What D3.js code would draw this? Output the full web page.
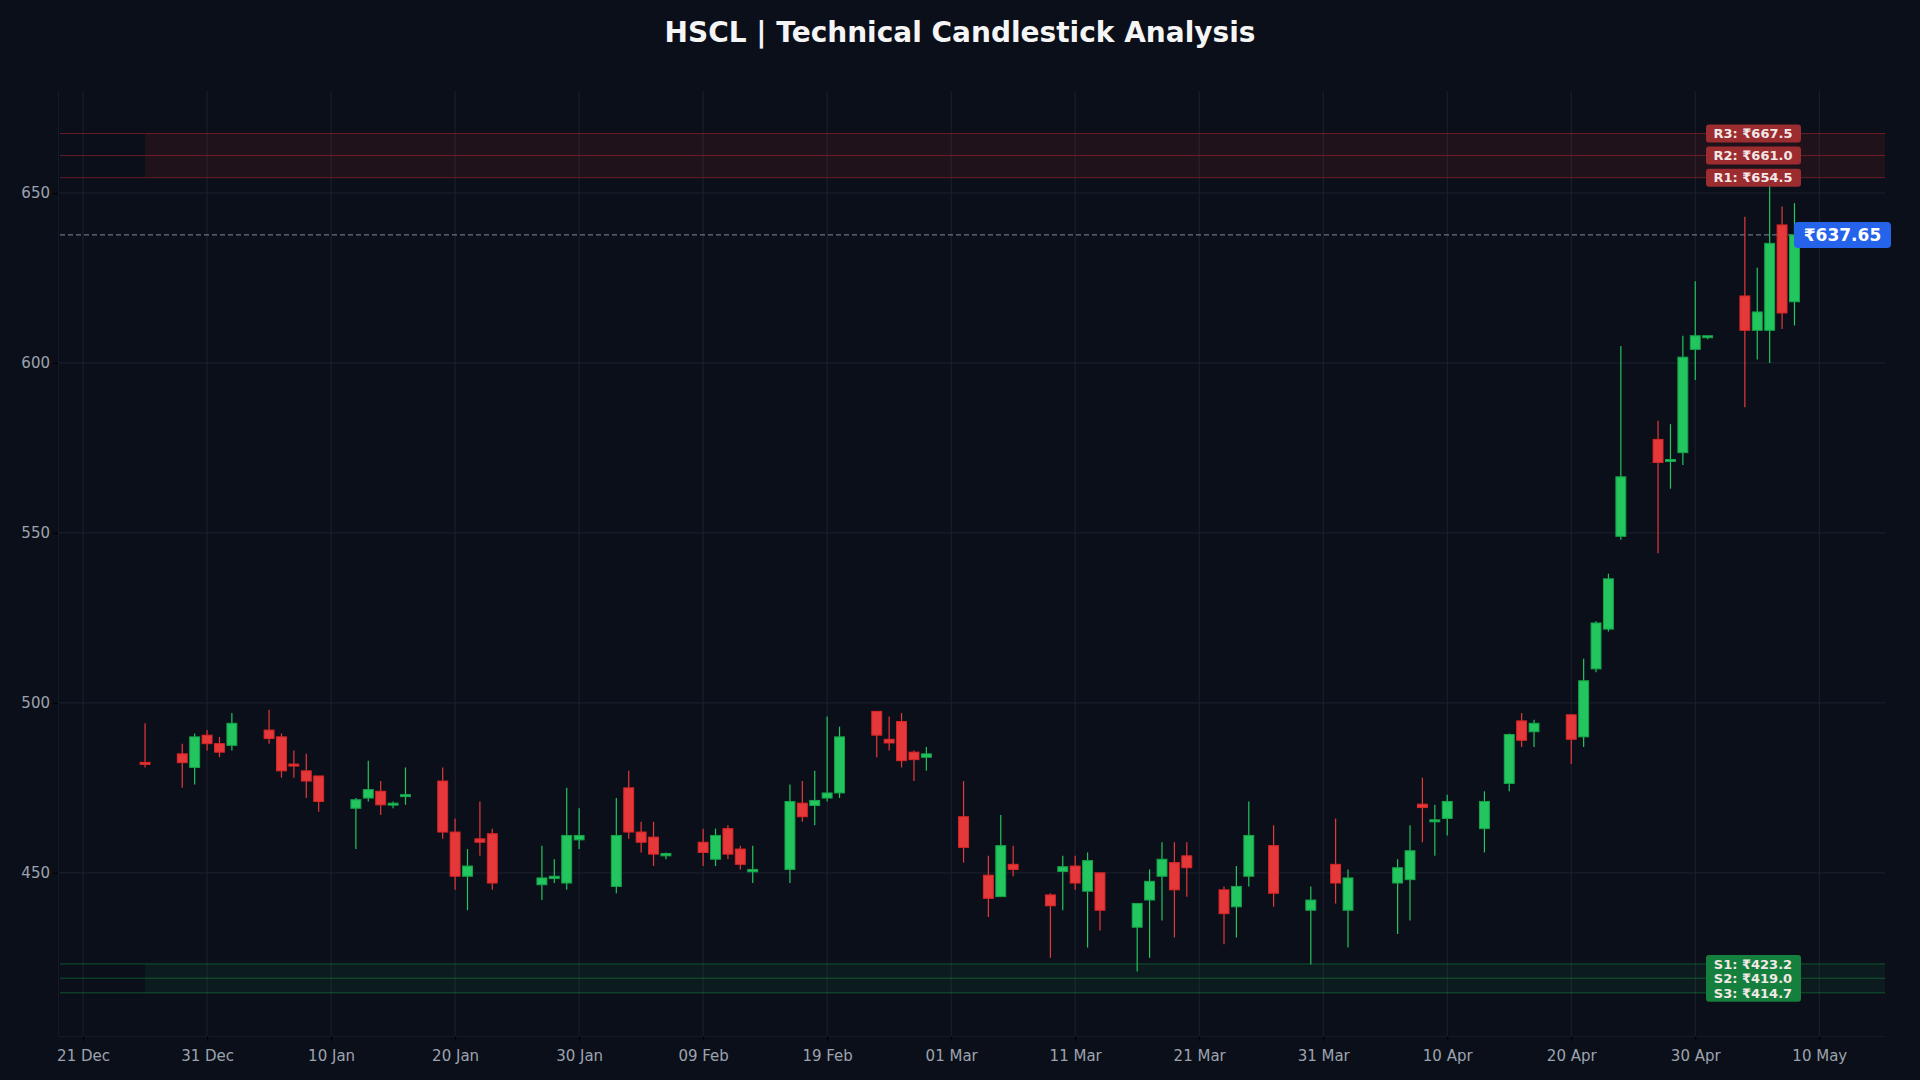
<!DOCTYPE html>
<html>
<head>
<meta charset="utf-8">
<script src="https://cdn.jsdelivr.net/npm/d3@7"></script>
<style>
  body { margin: 0; background: #0b0f19; }
  text { font-family: "DejaVu Sans", sans-serif; }
</style>
</head>
<body>
<div id="chart"></div>
<script>
// trading days and OHLC values
const dates = ["2025-12-26","2025-12-29","2025-12-30","2025-12-31","2026-01-01","2026-01-02",
  "2026-01-05","2026-01-06","2026-01-07","2026-01-08","2026-01-09",
  "2026-01-12","2026-01-13","2026-01-14","2026-01-15","2026-01-16",
  "2026-01-19","2026-01-20","2026-01-21","2026-01-22","2026-01-23",
  "2026-01-27","2026-01-28","2026-01-29","2026-01-30",
  "2026-02-02","2026-02-03","2026-02-04","2026-02-05","2026-02-06",
  "2026-02-09","2026-02-10","2026-02-11","2026-02-12","2026-02-13",
  "2026-02-16","2026-02-17","2026-02-18","2026-02-19","2026-02-20",
  "2026-02-23","2026-02-24","2026-02-25","2026-02-26","2026-02-27",
  "2026-03-02","2026-03-04","2026-03-05","2026-03-06",
  "2026-03-09","2026-03-10","2026-03-11","2026-03-12","2026-03-13",
  "2026-03-16","2026-03-17","2026-03-18","2026-03-19","2026-03-20",
  "2026-03-23","2026-03-24","2026-03-25","2026-03-27",
  "2026-03-30","2026-04-01","2026-04-02",
  "2026-04-06","2026-04-07","2026-04-08","2026-04-09","2026-04-10",
  "2026-04-13","2026-04-15","2026-04-16","2026-04-17",
  "2026-04-20","2026-04-21","2026-04-22","2026-04-23","2026-04-24",
  "2026-04-27","2026-04-28","2026-04-29","2026-04-30","2026-05-01",
  "2026-05-04","2026-05-05","2026-05-06","2026-05-07","2026-05-08"];
const opens  = [482.5,485,481,490.5,488,487.5, 492,490,482,480,478.5, 469,472,474,470,472.5,
  477,462,449,460,461.5, 446.5,448.3,447,459.7, 446,475,462,460.5,455, 459,454,463,457,450.3,
  451,470.5,469.8,472,473.5, 497.5,489.3,494.5,485.5,484, 466.5,449.3,443,452.5,
  443.5,450.4,452,444.6,450, 434,442,449,453,455, 445,440,449,458, 439,452.5,439,
  447,448,470.2,465,466, 463,476.3,494.7,491.5, 496.5,490,510,521.7,549,
  577.5,571.2,573.6,604,607.6, 619.7,609.6,609.6,640.6,618];
const closes = [482,482.4,490,488,485.5,494, 489.5,480,481.5,477,471, 471.5,474.5,470,470.5,473,
  462,449,452,459,447, 448.5,449,461,461, 461,462,459,455.5,455.7, 456,461,455.5,452.5,451,
  471,466.5,471.3,473.5,490, 490.5,488.2,483,483.3,485, 457.5,442.5,458,451,
  440.3,451.8,447,453.6,439, 441,447.5,454,445,451.5, 438,446,461,444, 442,447,448.5,
  451.5,456.5,469.2,465.6,471, 471,490.7,489,494, 489.3,506.5,523.5,536.5,566.5,
  570.7,571.6,601.7,608,608, 609.6,615,635.2,614.7,637.65];
const highs  = [494,488,491,492,490,497, 498,491,486,485,478.5, 472,483,477,471,481,
  481,466,457,471,463, 458,454,475,469, 472,480,465,465,456, 463,463,464,458,458,
  476,477,480,496,493, 497.5,496,497,486,487, 477,455,467,458,
  444,455,455,456,450, 441,451,459,459,459, 446,452,471,464, 446,466,451,
  454,464,478,470,473, 474,491,497,495, 496.5,513,524,538,605,
  583,582,608,624,608, 643,628,654,646,647];
const lows   = [481,475,476,486,484,486, 488,478,478,472,468, 457,471,467,469,470,
  460,445,439,455,445, 442,447,445,457, 444,460,456,452,454, 452,452,454,451,447,
  447,465,464,471,472, 484,486,481,477,480, 453,437,443,449,
  425,439,445,428,433, 421,425,436,431,443, 429,431,446,440, 423,441,428,
  432,436,459,455,461, 456,474,487,487, 482,487,509,521,548,
  544,563,570,595,607, 587,601,600,610,611];

const resistance = [654.5, 661.0, 667.5];
const support = [423.2, 419.0, 414.7];
const lastPrice = 637.65;
const yTicks = [450, 500, 550, 600, 650];
const xTicks = ["2025-12-21","2025-12-31","2026-01-10","2026-01-20","2026-01-30","2026-02-09",
  "2026-02-19","2026-03-01","2026-03-11","2026-03-21","2026-03-31","2026-04-10","2026-04-20",
  "2026-04-30","2026-05-10"];

const width = 1920, height = 1080;
const margin = {top: 91, right: 35, bottom: 44, left: 58};
const bg = "#0b0f19", up = "#22c55e", down = "#e5383b";

const parse = d3.utcParse("%Y-%m-%d");
const data = dates.map((d, i) => ({date: parse(d), o: opens[i], c: closes[i], h: highs[i], l: lows[i]}));
const day = 864e5;

const svg = d3.select("#chart").append("svg")
  .attr("width", width).attr("height", height)
  .style("background", bg);

const x = d3.scaleUtc()
  .domain([new Date(parse("2025-12-21").getTime() - 2.02 * day), new Date(parse("2026-05-10").getTime() + 5.3 * day)])
  .range([margin.left, width - margin.right]);
const y = d3.scaleLinear()
  .domain([402, 680])
  .range([height - margin.bottom, margin.top]);

const x0 = margin.left, x1 = width - margin.right;

// grid
svg.append("g").selectAll("line").data(yTicks).join("line")
  .attr("x1", x0).attr("x2", x1).attr("y1", d => y(d)).attr("y2", d => y(d))
  .attr("stroke", "#1c2230").attr("stroke-width", 1);
svg.append("g").selectAll("line").data(xTicks).join("line")
  .attr("x1", d => x(parse(d))).attr("x2", d => x(parse(d)))
  .attr("y1", margin.top).attr("y2", height - margin.bottom)
  .attr("stroke", "#1c2230").attr("stroke-width", 1);

// zones
const zoneStart = x(data[0].date);
svg.append("rect").attr("x", zoneStart).attr("width", x1 - zoneStart)
  .attr("y", y(d3.max(resistance))).attr("height", y(d3.min(resistance)) - y(d3.max(resistance)))
  .attr("fill", "#e5383b").attr("opacity", 0.09);
svg.append("rect").attr("x", zoneStart).attr("width", x1 - zoneStart)
  .attr("y", y(d3.max(support))).attr("height", y(d3.min(support)) - y(d3.max(support)))
  .attr("fill", "#22c55e").attr("opacity", 0.07);

svg.append("g").selectAll("line").data(resistance).join("line")
  .attr("x1", x0 + 2).attr("x2", x1).attr("y1", d => y(d)).attr("y2", d => y(d))
  .attr("stroke", "#a3262c").attr("stroke-width", 1).attr("opacity", 0.6);
svg.append("g").selectAll("line").data(support).join("line")
  .attr("x1", x0 + 2).attr("x2", x1).attr("y1", d => y(d)).attr("y2", d => y(d))
  .attr("stroke", "#15803d").attr("stroke-width", 1).attr("opacity", 0.6);

// current price line
svg.append("line").attr("x1", x0 + 2).attr("x2", x1)
  .attr("y1", y(lastPrice)).attr("y2", y(lastPrice))
  .attr("stroke", "#6b7280").attr("stroke-width", 1.2).attr("stroke-dasharray", "5,3");

// candles
const bw = 0.8 * (x(new Date(day)) - x(new Date(0)));
const candles = svg.append("g").selectAll("g").data(data).join("g");
candles.append("line")
  .attr("x1", d => x(d.date)).attr("x2", d => x(d.date))
  .attr("y1", d => y(d.h)).attr("y2", d => y(d.l))
  .attr("stroke", d => d.c >= d.o ? up : down).attr("stroke-width", 1.2);
candles.append("rect")
  .attr("x", d => x(d.date) - bw / 2).attr("width", bw)
  .attr("y", d => y(Math.max(d.o, d.c)))
  .attr("height", d => Math.max(2, Math.abs(y(d.o) - y(d.c))))
  .attr("fill", d => d.c >= d.o ? up : down)
  .attr("stroke", d => d.c >= d.o ? "#16a34a" : "#dc2626").attr("stroke-width", 1);

// axes
const xAxis = svg.append("g")
  .attr("transform", `translate(0,${height - margin.bottom})`)
  .call(d3.axisBottom(x).tickValues(xTicks.map(parse)).tickFormat(d3.utcFormat("%d %b")).tickSize(5).tickSizeOuter(0));
const yAxis = svg.append("g")
  .attr("transform", `translate(${margin.left},0)`)
  .call(d3.axisLeft(y).tickValues(yTicks).tickSize(5).tickSizeOuter(0));
[xAxis, yAxis].forEach(a => {
  a.select(".domain").attr("stroke", "#151a26");
  a.selectAll(".tick line").attr("stroke", "#000");
  a.selectAll(".tick text").attr("fill", "#9ca3af").attr("font-size", 15);
});
xAxis.selectAll(".tick text").attr("dy", "1.1em");

// level labels
const labelX = 1753;
function levelLabel(v, name, fill) {
  const g = svg.append("g").attr("transform", `translate(${labelX},${y(v)})`);
  g.append("rect").attr("x", -47).attr("y", -9).attr("width", 95).attr("height", 18)
    .attr("rx", 3).attr("fill", fill);
  g.append("text").attr("text-anchor", "middle").attr("dy", "0.36em")
    .attr("font-size", 13).attr("font-weight", "bold").attr("fill", "#f3e8e8")
    .text(`${name}: ₹${v.toFixed(1)}`);
}
resistance.forEach((v, i) => levelLabel(v, "R" + (i + 1), "#9b2c30"));
support.forEach((v, i) => levelLabel(v, "S" + (i + 1), "#15803d"));

// price tag
const tag = svg.append("g").attr("transform", `translate(1794,${y(lastPrice)})`);
tag.append("rect").attr("x", 0).attr("y", -13).attr("width", 97).attr("height", 26)
  .attr("rx", 4).attr("fill", "#2563eb");
tag.append("text").attr("x", 48.5).attr("text-anchor", "middle").attr("dy", "0.36em")
  .attr("font-size", 17).attr("font-weight", "bold").attr("fill", "#fff")
  .text(`₹${lastPrice.toFixed(2)}`);

// title
svg.append("text").attr("x", width / 2).attr("y", 42).attr("text-anchor", "middle")
  .attr("font-size", 28).attr("font-weight", "bold").attr("fill", "#f5f5f5")
  .text("HSCL | Technical Candlestick Analysis");
</script>
</body>
</html>
